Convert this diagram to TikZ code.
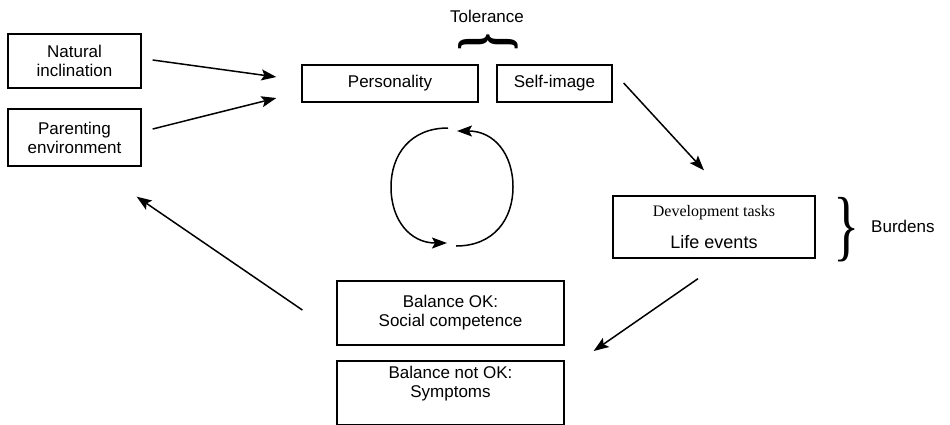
\documentclass[tikz,border=0pt]{standalone}
\usepackage{fontspec}
\setmainfont{Liberation Sans}
\newfontfamily\serifff{Liberation Serif}
\usetikzlibrary{arrows.meta,calc}
\begin{document}
\begin{tikzpicture}[x=1pt,y=-1pt,
  box/.style={draw, line width=1.3pt, inner sep=0pt, align=center, font=\fontsize{17}{19}\selectfont},
  txt/.style={inner sep=0pt, align=center, font=\fontsize{17}{19}\selectfont},
  arr/.style={line width=1.5pt, -{Stealth[length=15pt,width=11pt,inset=3pt]}},
]
\useasboundingbox (0,0) rectangle (950,424);
\fill[white] (0,0) rectangle (950,424);

\node[box, minimum width=133, minimum height=54] (nat) at (74.5,61) {Natural\\inclination};
\node[box, minimum width=133, minimum height=57] (par) at (74.5,137.5) {Parenting\\environment};
\node[box, minimum width=176, minimum height=37] (pers) at (390,83.5) {Personality};
\node[box, minimum width=115, minimum height=37] (self) at (554.5,83.5) {Self-image};
\node[box, minimum width=202, minimum height=62] (dev) at (714,227) {};
\node[anchor=base, inner sep=0pt, font=\serifff\fontsize{16}{16}\selectfont] (devt) at (714,216) {Development tasks};
\node[anchor=base, inner sep=0pt, font=\fontsize{18}{18}\selectfont] (life) at (714,248) {Life events};
\node[box, minimum width=227, minimum height=64] (ok) at (450.5,313) {Balance OK:\\Social competence};
\node[box, minimum width=227, minimum height=64] (nok) at (450.5,393) {};
\node[txt] (noktxt) at (450.5,384) {Balance not OK:\\Symptoms};

\node[txt, anchor=base] (tol) at (487,22) {Tolerance};
\node[inner sep=0pt, font=\serifff\bfseries\fontsize{72}{72}\selectfont] (tolb) at (488,42) {\rotatebox{90}{\scalebox{0.6}[1]{\}}}};
\node[inner sep=0pt, font=\serifff\fontsize{78}{78}\selectfont] (burb) at (847,230) {\scalebox{0.7}[1]{\}}};
\node[txt, anchor=west] (bur) at (871,226) {Burdens};

\draw[arr] ($(nat.east)+(11,-1)$) -- ($(pers.west)+(-25,-6.5)$);
\draw[arr] ($(par.east)+(11,-8.5)$) -- ($(pers.west)+(-25,14.5)$);
\draw[arr] ($(self.east)+(11,-0.5)$) -- ($(dev.north)+(-10,-25)$);
\draw[arr] ($(dev.south)+(-16,20)$) -- ($(ok.east)+(29,38)$);
\draw[arr] ($(ok.west)+(-34,-3)$) -- ($(par.south east)+(-5,30)$);

\draw[arr] (448,128) .. controls (410,128) and (391,155) .. (391,187) .. controls (391,220) and (410,243) .. (447,243);
\draw[arr] (456,246) .. controls (494,246) and (513,219) .. (513,187) .. controls (513,154) and (494,131) .. (457,131);
\end{tikzpicture}
\end{document}
